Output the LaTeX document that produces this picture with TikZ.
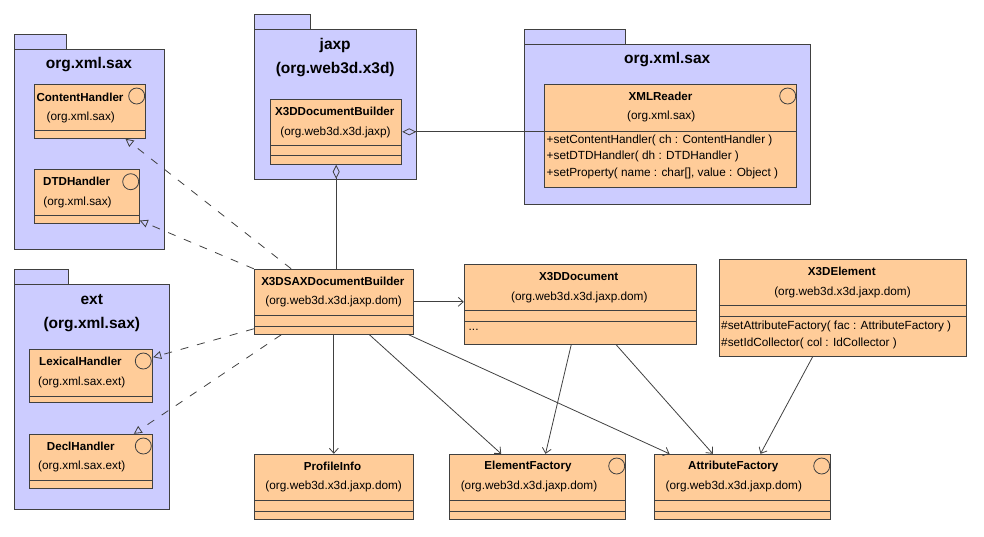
\documentclass[tikz,border=0pt]{standalone}
\usepackage{fontspec}
\setmainfont{Liberation Sans}
\usetikzlibrary{arrows.meta,fit,calc}
\definecolor{pkgc}{HTML}{CCCCFF}
\definecolor{clsc}{HTML}{FFCC99}
\definecolor{lc}{HTML}{404040}
\newcommand\clsdiv[2]{\draw[divline] (#1.west |- 0,#2) -- (#1.east |- 0,#2);}
\begin{document}
\begin{tikzpicture}[x=1pt,y=-1pt,
  pkgbox/.style={draw=lc, fill=pkgc, line width=1pt, inner sep=0pt},
  clsbox/.style={draw=lc, fill=clsc, line width=1pt, inner sep=0pt},
  nametxt/.style={font=\bfseries\fontsize{11.6}{14}\selectfont, inner sep=0pt},
  pkgtxt/.style={font=\fontsize{11.8}{14}\selectfont, inner sep=0pt},
  titletxt/.style={font=\bfseries\fontsize{15.5}{18}\selectfont, inner sep=0pt},
  optxt/.style={font=\fontsize{11.8}{14}\selectfont, inner sep=0pt, anchor=west},
  divline/.style={draw=lc, line width=1pt},
  iface/.style={draw=lc, line width=0.8pt, circle, minimum size=16pt, inner sep=0pt},
  real/.style={draw=lc, line width=0.8pt, dash pattern=on 8pt off 9pt, -{Triangle[open, length=8pt, width=8pt]}},
  assoc/.style={draw=lc, line width=0.8pt, -{Straight Barb[length=5pt,width=9pt]}},
  aggr/.style={draw=lc, line width=0.8pt, {Diamond[open,length=14pt,width=7pt]}-}
]
\useasboundingbox (0,0) rectangle (984,536);

% ---------- packages ----------
\node[pkgbox, fit={(14.3,34.3) (66.7,49.3)}] (p1tab) {};
\node[pkgbox, fit={(14.3,49.3) (164,249)}] (p1) {};
\node[titletxt] (p1t) at (89,64.3) {org.xml.sax};

\node[pkgbox, fit={(254.3,14.3) (310.7,29.3)}] (p2tab) {};
\node[pkgbox, fit={(254.3,29.3) (416,179)}] (p2) {};
\node[titletxt] (p2t) at (335.2,45) {jaxp};
\node[titletxt] (p2t2) at (335.2,70) {(org.web3d.x3d)};

\node[pkgbox, fit={(524.3,29.3) (625.3,44.3)}] (p3tab) {};
\node[pkgbox, fit={(524.3,44.3) (810,204)}] (p3) {};
\node[titletxt] (p3t) at (667.2,59.3) {org.xml.sax};

\node[pkgbox, fit={(14.3,269.3) (68.7,284.3)}] (p4tab) {};
\node[pkgbox, fit={(14.3,284.3) (169.3,509.3)}] (p4) {};
\node[titletxt] (p4t) at (91.8,299.3) {ext};
\node[titletxt] (p4t2) at (91.8,325) {(org.xml.sax)};

% ---------- classes ----------
% ContentHandler
\node[clsbox, fit={(34.3,84.3) (145.3,138.3)}] (ch) {};
\clsdiv{ch}{130}
\node[nametxt] (chn) at (80,97) {ContentHandler};
\node[pkgtxt] (chp) at (80.8,117) {(org.xml.sax)};
\node[iface] (chi) at (136.7,96) {};

% DTDHandler
\node[clsbox, fit={(34.3,169.3) (139.3,223.3)}] (dtd) {};
\clsdiv{dtd}{215}
\node[nametxt] (dtdn) at (76.7,181.7) {DTDHandler};
\node[pkgtxt] (dtdp) at (77.5,202) {(org.xml.sax)};
\node[iface] (dtdi) at (130.7,181.7) {};

% XMLReader
\node[clsbox, fit={(544.3,84.3) (796.7,187.3)}] (xr) {};
\clsdiv{xr}{131}
\node[nametxt] (xrn) at (660.5,96.7) {XMLReader};
\node[pkgtxt] (xrp) at (661.2,116.7) {(org.xml.sax)};
\node[iface] (xri) at (787.7,96) {};
\node[optxt] (xr1) at (546.5,140) {+setContentHandler( ch : ContentHandler )};
\node[optxt] (xr2) at (546.5,156.7) {+setDTDHandler( dh : DTDHandler )};
\node[optxt] (xr3) at (546.5,173.3) {+setProperty( name : char[], value : Object )};

% LexicalHandler
\node[clsbox, fit={(29.3,349.3) (152.7,402.7)}] (lex) {};
\clsdiv{lex}{396}
\node[nametxt] (lexn) at (80.5,361.7) {LexicalHandler};
\node[pkgtxt] (lexp) at (81.7,382.3) {(org.xml.sax.ext)};
\node[iface] (lexi) at (143.3,361) {};

% DeclHandler
\node[clsbox, fit={(29.3,434.3) (152.7,488.3)}] (decl) {};
\clsdiv{decl}{480.7}
\node[nametxt] (decln) at (80.8,446.7) {DeclHandler};
\node[pkgtxt] (declp) at (81.7,466.7) {(org.xml.sax.ext)};
\node[iface] (decli) at (143.3,446) {};

% X3DDocumentBuilder
\node[clsbox, fit={(270.7,99.3) (401.7,164.3)}] (xdb) {};
\clsdiv{xdb}{145.7}
\clsdiv{xdb}{155.7}
\node[nametxt] (xdbn) at (334.7,111.7) {X3DDocumentBuilder};
\node[pkgtxt] (xdbp) at (335.5,132.3) {(org.web3d.x3d.jaxp)};

% X3DSAXDocumentBuilder
\node[clsbox, fit={(254.3,269.3) (413.3,334.3)}] (sax) {};
\clsdiv{sax}{315.7}
\clsdiv{sax}{326}
\node[nametxt] (saxn) at (332.8,281.7) {X3DSAXDocumentBuilder};
\node[pkgtxt] (saxp) at (333.7,301.7) {(org.web3d.x3d.jaxp.dom)};

% X3DDocument
\node[clsbox, fit={(464.3,264.3) (696.7,344.3)}] (xd) {};
\clsdiv{xd}{310.7}
\clsdiv{xd}{321}
\node[nametxt] (xdn) at (578.7,276.7) {X3DDocument};
\node[pkgtxt] (xdp) at (579.3,297.3) {(org.web3d.x3d.jaxp.dom)};
\node[optxt] (xdo) at (468.5,330) {...};

% X3DElement
\node[clsbox, fit={(719.3,259.3) (966.7,356)}] (xe) {};
\clsdiv{xe}{305.7}
\clsdiv{xe}{316.7}
\node[nametxt] (xen) at (841.8,271) {X3DElement};
\node[pkgtxt] (xep) at (842.5,292.3) {(org.web3d.x3d.jaxp.dom)};
\node[optxt] (xe1) at (721,326.7) {\#setAttributeFactory( fac : AttributeFactory )};
\node[optxt] (xe2) at (721,343.3) {\#setIdCollector( col : IdCollector )};

% ProfileInfo
\node[clsbox, fit={(254.3,454.3) (413.3,519.3)}] (pi) {};
\clsdiv{pi}{500.7}
\clsdiv{pi}{511}
\node[nametxt] (pin) at (332.5,466.7) {ProfileInfo};
\node[pkgtxt] (pip) at (333.7,486.7) {(org.web3d.x3d.jaxp.dom)};

% ElementFactory
\node[clsbox, fit={(449.3,454.3) (625.7,519.3)}] (ef) {};
\clsdiv{ef}{500.7}
\clsdiv{ef}{511}
\node[nametxt] (efn) at (528,466.7) {ElementFactory};
\node[pkgtxt] (efp) at (529,486.7) {(org.web3d.x3d.jaxp.dom)};
\node[iface] (efi) at (616.7,466) {};

% AttributeFactory
\node[clsbox, fit={(654.3,454.3) (830.7,519.3)}] (af) {};
\clsdiv{af}{500.7}
\clsdiv{af}{511}
\node[nametxt] (afn) at (733.3,466.7) {AttributeFactory};
\node[pkgtxt] (afp) at (733.8,486.7) {(org.web3d.x3d.jaxp.dom)};
\node[iface] (afi) at (821.7,466) {};

% ---------- connectors ----------
% realizations (dashed, hollow triangle)
\draw[real] ([xshift=37.4pt]sax.north west) -- ([xshift=-20.3pt]ch.south east);
\draw[real] (sax.north west) -- ([yshift=3.3pt]dtd.south east);
\draw[real] ([yshift=6pt]sax.south west) -- ([yshift=-8.4pt]lex.north east);
\draw[real] ([xshift=27.4pt]sax.south west) -- ([xshift=-19.4pt]decl.north east);

% aggregations
\draw[aggr] (xdb.east) -- (xdb.east -| xr.west);
\draw[aggr] (xdb.south) -- (xdb.south |- sax.north);

% associations
\draw[assoc] (sax.east) -- (sax.east -| xd.west);
\draw[assoc] (sax.south) -- (pi.north);
\draw[assoc] ([xshift=115.7pt]sax.south west) -- ([xshift=52.4pt]ef.north west);
\draw[assoc] ([xshift=-5pt]sax.south east) -- ([xshift=15.7pt]af.north west);
\draw[assoc] ([xshift=107.4pt]xd.south west) -- ([xshift=96.7pt]ef.north west);
\draw[assoc] ([xshift=152.4pt]xd.south west) -- ([xshift=59pt]af.north west);
\draw[assoc] ([xshift=94pt]xe.south west) -- ([xshift=106.7pt]af.north west);
\end{tikzpicture}
\end{document}
